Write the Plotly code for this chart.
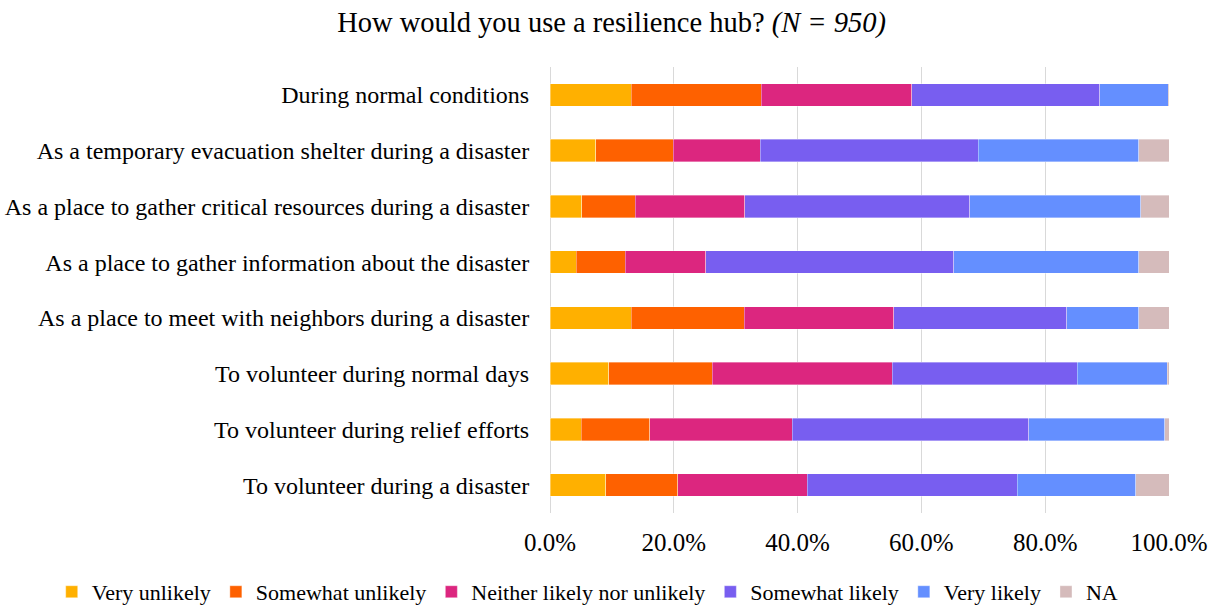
import plotly.graph_objects as go

categories = [
    "During normal conditions",
    "As a temporary evacuation shelter during a disaster",
    "As a place to gather critical resources during a disaster",
    "As a place to gather information about the disaster",
    "As a place to meet with neighbors during a disaster",
    "To volunteer during normal days",
    "To volunteer during relief efforts",
    "To volunteer during a disaster",
]

# Share of respondents (%) per response, in category order
very_unlikely = [13.15, 7.4, 5.1, 4.25, 13.15, 9.45, 5.05, 9.0]
somewhat_unlikely = [21.0, 12.55, 8.7, 7.9, 18.2, 16.8, 11.1, 11.6]
neither = [24.25, 14.05, 17.7, 13.0, 24.2, 29.0, 23.0, 20.95]
somewhat_likely = [30.45, 35.15, 36.35, 40.1, 27.95, 29.9, 38.2, 33.9]
very_likely = [11.0, 26.0, 27.6, 29.85, 11.65, 14.55, 22.0, 19.15]
na = [0.15, 4.85, 4.55, 4.9, 4.85, 0.3, 0.65, 5.45]

series = [
    ("Very unlikely", very_unlikely, "#FFB000"),
    ("Somewhat unlikely", somewhat_unlikely, "#FE6100"),
    ("Neither likely nor unlikely", neither, "#DC267F"),
    ("Somewhat likely", somewhat_likely, "#785EF0"),
    ("Very likely", very_likely, "#648FFF"),
    ("NA", na, "#D5BBBB"),
]

FONT = "Liberation Serif, Times New Roman, serif"

fig = go.Figure()
for name, vals, color in series:
    fig.add_trace(go.Bar(
        y=categories,
        x=[v / 100 for v in vals],
        name=name,
        orientation="h",
        marker=dict(color=color, line=dict(color="rgba(255,255,255,0.6)", width=0.6)),
    ))

fig.update_layout(
    barmode="stack",
    bargap=0.6,
    width=1211,
    height=606,
    margin=dict(l=550, r=42, t=67, b=93, autoexpand=False),
    paper_bgcolor="white",
    plot_bgcolor="white",
    font=dict(family=FONT, size=24, color="#000000"),
    title=dict(
        text="How would you use a resilience hub? <i>(N = 950)</i>",
        x=0.505, xanchor="center", xref="container",
        y=0.963, yanchor="middle",
        font=dict(family=FONT, size=28.5, color="#000000"),
    ),
    legend=dict(
        orientation="h",
        x=-0.805, xanchor="left", xref="paper",
        y=-0.177, yanchor="middle", yref="paper",
        traceorder="normal",
        font=dict(family=FONT, size=22),
        itemwidth=30,
    ),
    showlegend=True,
)

fig.update_xaxes(
    range=[0, 1],
    tickvals=[0, 0.2, 0.4, 0.6, 0.8, 1.0],
    tickformat=".1%",
    tickfont=dict(size=25),
    showgrid=True,
    gridcolor="#D9D9D9",
    gridwidth=1.3,
    zeroline=True,
    zerolinecolor="#D9D9D9",
    zerolinewidth=1.3,
    showline=False,
    ticks="outside",
    ticklen=7,
    tickcolor="rgba(0,0,0,0)",
    automargin=False,
)
fig.update_yaxes(
    autorange="reversed",
    showgrid=False,
    ticks="outside",
    ticklen=15,
    tickcolor="rgba(0,0,0,0)",
    automargin=False,
)

fig.write_html("out.html")
